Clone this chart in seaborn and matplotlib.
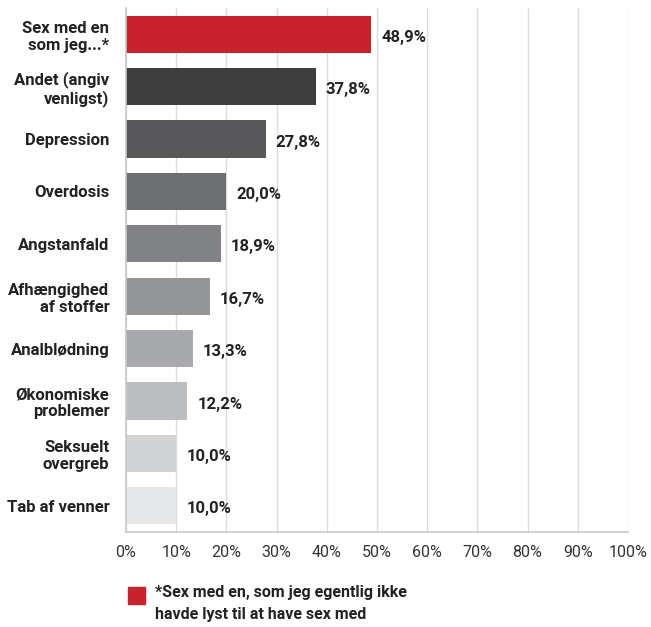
import matplotlib
matplotlib.use("Agg")
import matplotlib.pyplot as plt
import seaborn as sns
import pandas as pd
import matplotlib.patches as mpatches

categories = ["Sex med en\nsom jeg...*", "Andet (angiv\nvenligst)", "Depression", "Overdosis",
              "Angstanfald", "Afhængighed\naf stoffer", "Analblødning", "Økonomiske\nproblemer",
              "Seksuelt\novergreb", "Tab af venner"]
values = [48.9, 37.8, 27.8, 20.0, 18.9, 16.7, 13.3, 12.2, 10.0, 10.0]
colors = ["#C8232C", "#3E3E3F", "#58585A", "#6D6E71", "#818285", "#949598",
          "#A8A9AC", "#BCBDC0", "#D2D3D4", "#E6E7E8"]
xticks = [0, 10, 20, 30, 40, 50, 60, 70, 80, 90, 100]
legend_text = "*Sex med en, som jeg egentlig ikke\nhavde lyst til at have sex med"

sns.set_style("white")
plt.rcParams['font.family'] = ['Roboto', 'DejaVu Sans']

df = pd.DataFrame({"cat": categories, "val": values})
fig = plt.figure(figsize=(6.51, 6.27), dpi=100)
ax = fig.add_axes([0.1935, 0.1515, 0.7711, 0.8357])

sns.barplot(data=df, y="cat", x="val", hue="cat", palette=colors, orient="h",
            width=0.71, legend=False, ax=ax, saturation=1, linewidth=0, edgecolor="none")

ax.set_xlim(0, 100)
ax.set_ylim(9.5, -0.5)
ax.set_xticks(xticks)
ax.set_xticklabels([f"{t}%" for t in xticks], fontsize=11.5, color="#333333")
ax.tick_params(axis="x", length=0, pad=9)
ax.tick_params(axis="y", length=0, pad=12)
for lbl in ax.get_yticklabels():
    lbl.set_fontweight("bold")
    lbl.set_fontsize(12)
    lbl.set_color("#222222")
    lbl.set_horizontalalignment("right")
    lbl.set_multialignment("right")
    lbl.set_linespacing(1.15)
ax.set_xlabel("")
ax.set_ylabel("")
ax.set_axisbelow(True)
ax.grid(axis="x", color="#DCDCDC", linewidth=1)
for s in ["top", "right"]:
    ax.spines[s].set_visible(False)
ax.spines["left"].set_color("#C8C8C8")
ax.spines["bottom"].set_color("#C8C8C8")
ax.spines["left"].set_linewidth(1.2)
ax.spines["bottom"].set_linewidth(1.2)

for i, v in enumerate(values):
    ax.text(v + 2.0, i + 0.06, f"{v:.1f}%".replace(".", ","), va="center", ha="left",
            fontsize=12, fontweight="bold", color="#222222")

fig.patches.append(mpatches.Rectangle((128/651, 1-604/627), 17/651, 17/627,
                                      transform=fig.transFigure, color="#C8232C"))
fig.text(155/651, 1-585/627, legend_text, ha="left", va="top", fontsize=11.5,
         fontweight="bold", color="#222222", linespacing=1.55)

fig.savefig("out.png", dpi=100)
